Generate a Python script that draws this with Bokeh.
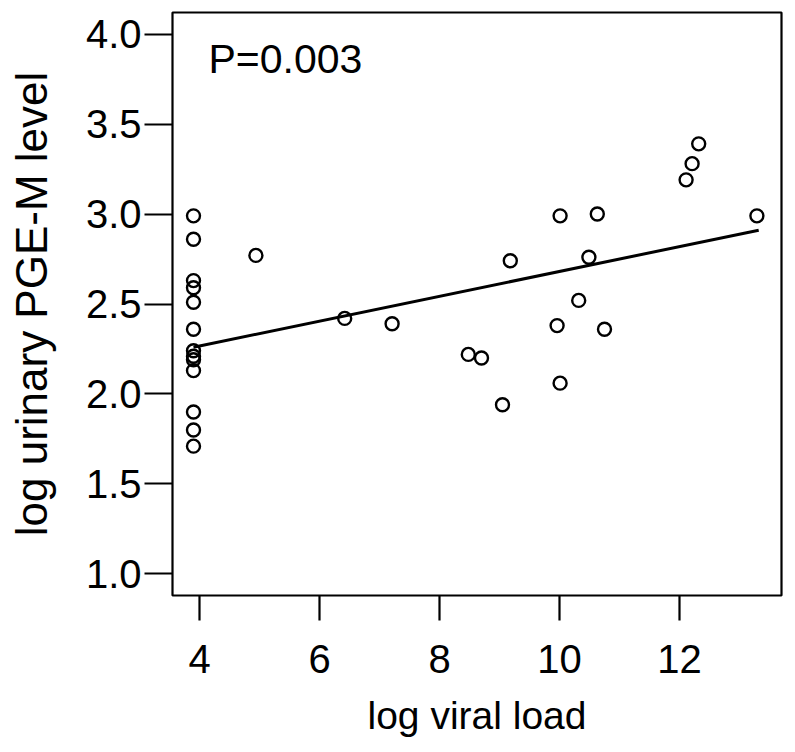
from bokeh.plotting import figure
from bokeh.models import FixedTicker, PrintfTickFormatter, Label, ColumnDataSource, Range1d
from bokeh.embed import file_html
from bokeh.resources import INLINE

# Data
viral_load = [3.9, 3.9, 3.9, 3.9, 3.9, 3.9, 3.9, 3.9, 3.9, 3.9, 3.9, 3.9, 3.9,
              4.94, 6.42, 7.21, 8.48, 8.70, 9.05, 9.18, 9.96, 10.01, 10.01,
              10.32, 10.49, 10.63, 10.75, 12.11, 12.21, 12.32, 13.29]
pge_m = [2.99, 2.86, 2.63, 2.59, 2.51, 2.36, 2.24, 2.21, 2.19, 2.13, 1.90, 1.80, 1.71,
         2.77, 2.42, 2.39, 2.22, 2.20, 1.94, 2.74, 2.38, 2.99, 2.06,
         2.52, 2.76, 3.00, 2.36, 3.19, 3.28, 3.39, 2.99]

fit_x = [3.9, 13.32]
fit_y = [2.26, 2.91]

x_ticks = [4, 6, 8, 10, 12]
y_ticks = [1.0, 1.5, 2.0, 2.5, 3.0, 3.5, 4.0]

x_title = "log viral load"
y_title = "log urinary PGE-M level"
p_text = "P=0.003"

FONT = "Liberation Sans"

p = figure(width=787, height=744, output_backend="svg", toolbar_location=None,
           x_range=Range1d(3.55, 13.7), y_range=Range1d(0.88, 4.12),
           min_border_left=172, min_border_right=6, min_border_top=12, min_border_bottom=149)

p.grid.visible = False
p.background_fill_color = "white"
p.border_fill_color = "white"
p.outline_line_color = "black"
p.outline_line_width = 2.2

src = ColumnDataSource(dict(x=viral_load, y=pge_m))
p.scatter("x", "y", source=src, marker="circle", size=13, fill_color=None,
          line_color="black", line_width=2.4)
p.line(fit_x, fit_y, line_color="black", line_width=3)

for ax in (p.xaxis[0], p.yaxis[0]):
    ax.axis_line_color = None
    ax.major_tick_in = 0
    ax.major_tick_line_width = 2.2
    ax.major_tick_line_color = "black"
    ax.minor_tick_line_color = None
    ax.major_label_text_font = FONT
    ax.major_label_text_font_size = "40px"
    ax.major_label_text_color = "black"
    ax.axis_label_text_font = FONT
    ax.axis_label_text_font_style = "normal"
    ax.axis_label_text_color = "black"

p.xaxis.ticker = FixedTicker(ticks=x_ticks)
p.yaxis.ticker = FixedTicker(ticks=y_ticks)
p.yaxis.formatter = PrintfTickFormatter(format="%.1f")

p.xaxis.major_tick_out = 25
p.yaxis.major_tick_out = 28
p.xaxis.major_label_standoff = 24
p.yaxis.major_label_standoff = 3

p.xaxis.axis_label = x_title
p.yaxis.axis_label = y_title
p.xaxis.axis_label_text_font_size = "39px"
p.yaxis.axis_label_text_font_size = "44px"
p.xaxis.axis_label_standoff = 18
p.yaxis.axis_label_standoff = 27

p.add_layout(Label(x=4.15, y=3.86, text=p_text, text_font=FONT, text_font_size="41px",
                   text_color="black", text_baseline="alphabetic"))

open("out.html", "w").write(file_html(p, INLINE))
